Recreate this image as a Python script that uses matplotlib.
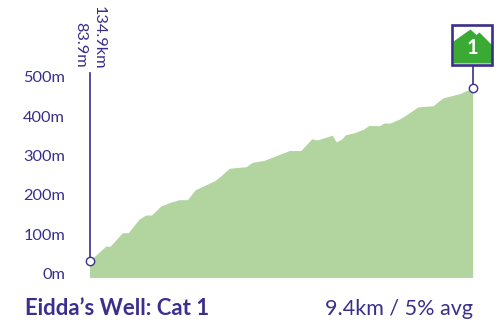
import matplotlib
matplotlib.use("Agg")
import matplotlib.pyplot as plt
from matplotlib.patches import Polygon, Rectangle
from matplotlib.transforms import ScaledTranslation

plt.rcParams['font.family'] = ['Lato', 'DejaVu Sans']

# distance along the climb (km) and height gained (m)
km = [0, 0.40, 0.50, 0.81, 0.95, 1.22, 1.38, 1.52, 1.75, 1.97, 2.20, 2.40, 2.59, 3.08, 3.20,
      3.43, 3.84, 3.99, 4.28, 4.90, 5.18, 5.45, 5.58, 5.95, 6.05, 6.18, 6.27, 6.51, 6.71, 6.85,
      7.10, 7.22, 7.37, 7.61, 7.78, 8.05, 8.42, 8.66, 9.08, 9.39]
height = [42, 80, 79, 114, 114, 149, 159, 159, 182, 191, 198, 198, 223, 247, 257,
          278, 282, 293, 298, 323, 323, 353, 350, 362, 345, 352, 363, 369, 377, 387,
          386, 393, 393, 404, 415, 434, 437, 457, 468, 483]
yticks = [0, 100, 200, 300, 400, 500]
ytick_labels = ['0m', '100m', '200m', '300m', '400m', '500m']
start_km = '134.9km'
start_alt = '83.9m'
climb_name = 'Eidda\u2019s Well: Cat 1'
climb_stats = '9.4km / 5% avg'
cat = '1'

navy = '#3a2f8c'
fill = '#b2d49e'
green = '#3aaa35'

W, H = 503, 323
fig = plt.figure(figsize=(W / 100, H / 100), dpi=100)

ax = fig.add_axes([89.5 / W, 1 - 277.5 / H, 383.5 / W, 196.5 / H])
ax.fill_between(km, height, 0, color=fill, lw=0)
ax.set_xlim(0, 9.4)
ax.set_ylim(0, 500)
ax.set_xticks([])
ax.set_yticks(yticks)
ax.set_yticklabels(ytick_labels, color=navy, fontsize=11.8)
ax.tick_params(axis='y', length=0, pad=17.5)
for lab in ax.get_yticklabels():
    lab.set_transform(lab.get_transform() + ScaledTranslation(0, 4 / 100, fig.dpi_scale_trans))
for s in ax.spines.values():
    s.set_visible(False)

# pin lines and end markers
ax.plot([km[0], km[0]], [height[0], 520], color=navy, lw=1.2, clip_on=False, zorder=3)
ax.plot([km[-1], km[-1]], [height[-1], 540], color=navy, lw=1.2, clip_on=False, zorder=3)
ax.plot([km[0], km[-1]], [height[0], height[-1]], ls='none', marker='o', ms=6, mfc='white',
        mec=navy, mew=1, clip_on=False, zorder=4)

# overlay in pixels for the badge and texts
ov = fig.add_axes([0, 0, 1, 1])
ov.set_xlim(0, W)
ov.set_ylim(H, 0)
ov.axis('off')
ov.patch.set_alpha(0)

ov.add_patch(Rectangle((452.5, 24.5), 40, 40, fc='white', ec='none'))
ov.add_patch(Polygon([(453.5, 41.5), (470.5, 29.5), (476.5, 35), (479.5, 32.5), (492, 45),
                      (492, 63.5), (453.5, 63.5)], fc=green, ec='none'))
ov.add_patch(Rectangle((452.5, 24.5), 40, 40, fc='none', ec=navy, lw=1.9))
ov.text(472.5, 48, cat, color='white', fontsize=14.5, fontweight='bold', ha='center', va='center')

ov.text(98.5, 6, start_km, color=navy, fontsize=11.8, rotation=270, ha='center', va='top')
ov.text(80.5, 22, start_alt, color=navy, fontsize=11.8, rotation=270, ha='center', va='top')

ov.text(25, 315, climb_name, color=navy, fontsize=15.9, fontweight='bold', ha='left', va='baseline')
ov.text(473, 315, climb_stats, color=navy, fontsize=15.5, ha='right', va='baseline')

fig.savefig('out.png', dpi=100)
